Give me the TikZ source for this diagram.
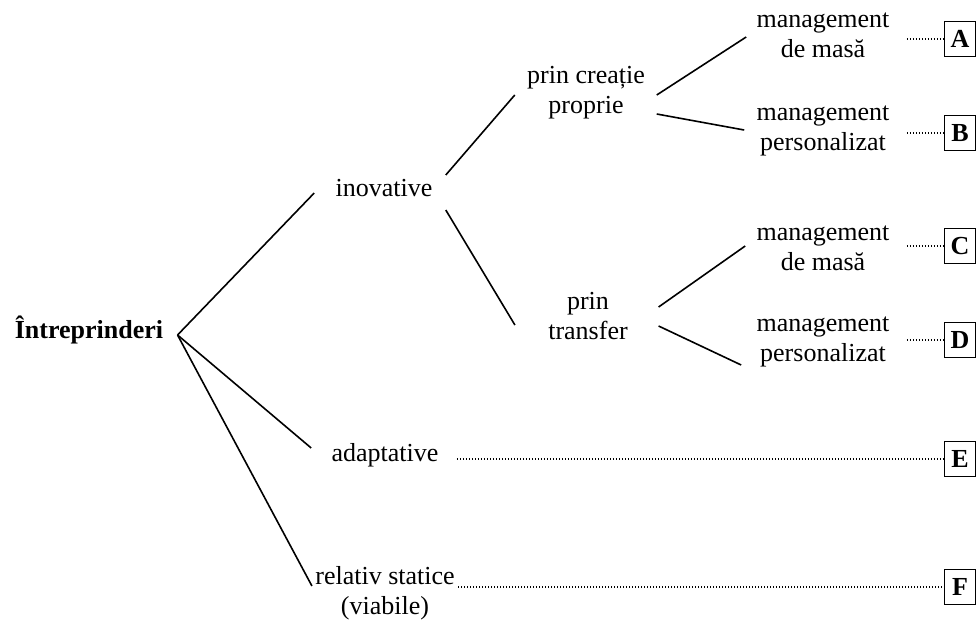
\documentclass[tikz,border=0pt]{standalone}
\usepackage{fontspec}
\setmainfont{Liberation Serif}
\usetikzlibrary{positioning}

\begin{document}
\begin{tikzpicture}[
    x=0.5pt, y=-0.5pt,
    txt/.style={align=center, inner sep=0pt, font=\fontsize{13}{15}\selectfont},
    letterbox/.style={draw, line width=0.9pt, minimum width=15.5pt, minimum height=17.5pt, inner sep=0pt, font=\fontsize{13}{15}\selectfont\bfseries},
    branch/.style={line width=0.8pt},
    leader/.style={line width=0.6pt, dash pattern=on 0.5pt off 1pt}
]
    \useasboundingbox (0,0) rectangle (980,622);

    % tree labels
    \node [txt, font=\fontsize{13}{15}\selectfont\bfseries] (firm) at (89,330) {Întreprinderi};
    \node [txt] (inov) at (384,188) {inovative};
    \node [txt] (creatie) at (586,93) {prin creație\\proprie};
    \node [txt] (transfer) at (588,316) {prin\\transfer};
    \node [txt] (mA) at (823,35) {management\\de masă};
    \node [txt] (mB) at (823,131) {management\\personalizat};
    \node [txt] (mC) at (823,248) {management\\de masă};
    \node [txt] (mD) at (823,342) {management\\personalizat};
    \node [txt] (adapt) at (385,455) {adaptative};
    \node [txt] (relativ) at (385,593) {relativ statice\\(viabile)};

    % letter boxes
    \node [letterbox] (A) at (960,39) {A};
    \node [letterbox] (B) at (960,133) {B};
    \node [letterbox] (C) at (960,246) {C};
    \node [letterbox] (D) at (960,340) {D};
    \node [letterbox] (E) at (960,459) {E};
    \node [letterbox] (F) at (960,587) {F};

    % branches
    \draw [branch] ([shift={(14,5)}]firm.east) -- ([shift={(-21,5)}]inov.west);
    \draw [branch] ([shift={(14,5)}]firm.east) -- ([shift={(-20,-7)}]adapt.west);
    \draw [branch] ([shift={(14,5)}]firm.east) -- ([shift={(-3,-7)}]relativ.west);
    \draw [branch] ([shift={(13,-13)}]inov.east) -- ([shift={(-12,2)}]creatie.west);
    \draw [branch] ([shift={(13,22)}]inov.east) -- ([shift={(-33,9)}]transfer.west);
    \draw [branch] ([shift={(11.5,2)}]creatie.east) -- ([shift={(-10,2)}]mA.west);
    \draw [branch] ([shift={(11.5,21)}]creatie.east) -- ([shift={(-12,-1)}]mB.west);
    \draw [branch] ([shift={(30.5,-9)}]transfer.east) -- ([shift={(-11,-2)}]mC.west);
    \draw [branch] ([shift={(30.5,10)}]transfer.east) -- ([shift={(-15,23)}]mD.west);

    % dotted leaders
    \draw [leader] ([xshift=8.5pt]A.west -| mA.east) -- (A.west);
    \draw [leader] ([xshift=8.5pt]B.west -| mB.east) -- (B.west);
    \draw [leader] ([xshift=8.5pt]C.west -| mC.east) -- (C.west);
    \draw [leader] ([xshift=8.5pt]D.west -| mD.east) -- (D.west);
    \draw [leader] ([xshift=9pt]E.west -| adapt.east) -- (E.west);
    \draw [leader] ([xshift=1.5pt]F.west -| relativ.east) -- (F.west);
\end{tikzpicture}
\end{document}
